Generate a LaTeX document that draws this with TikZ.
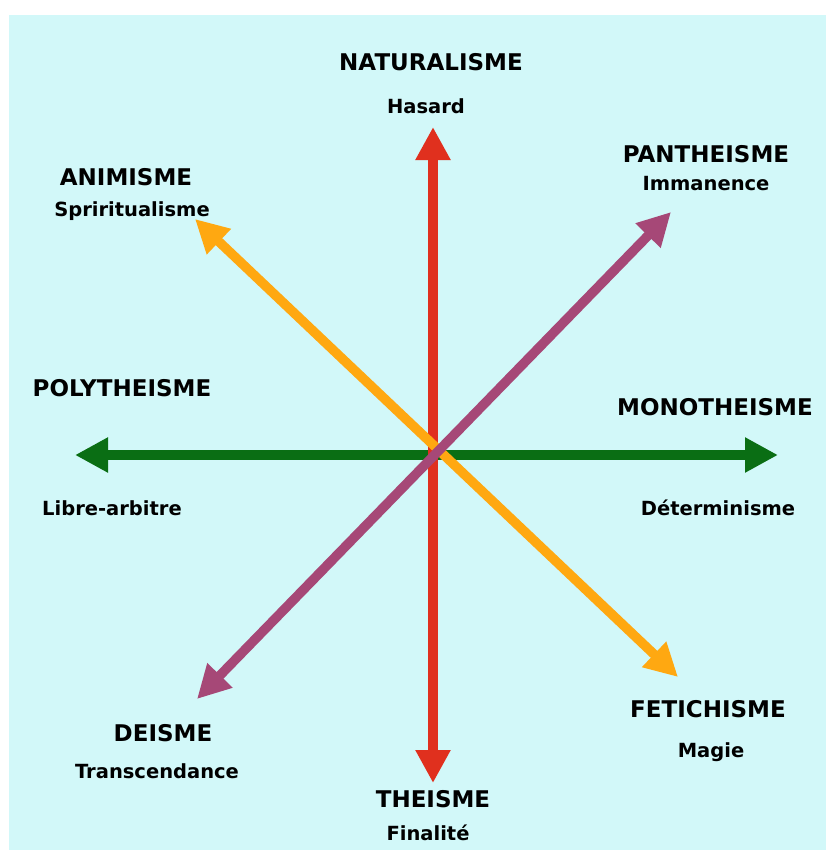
\documentclass[tikz,border=0pt]{standalone}
\usepackage{fontspec}
\setmainfont{DejaVu Sans}
\usepackage{tikz}
\usetikzlibrary{arrows.meta}
\definecolor{bgcyan}{HTML}{D2F8F9}
\definecolor{axred}{HTML}{E0301E}
\definecolor{axgreen}{HTML}{0A6E14}
\definecolor{axorange}{HTML}{FFA811}
\definecolor{axpurple}{HTML}{A64877}

\begin{document}
\begin{tikzpicture}[
  x = 1pt, y = -1pt,
  axis/.style = {line width = 9.5pt, {Triangle[length=33pt,width=33pt]}-{Triangle[length=33pt,width=33pt]}},
  doctrine/.style = {font = \bfseries\fontsize{23}{23}\selectfont, inner sep = 0pt},
  principle/.style = {font = \bfseries\fontsize{19.5}{19.5}\selectfont, inner sep = 0pt}
]
\useasboundingbox (0,0) rectangle (826,854);
\fill[white] (0,0) rectangle (826,854);
\fill[bgcyan] (9,15) rectangle (826,850);

% axis ends
\coordinate (north) at (433,127);
\coordinate (south) at (433,783);
\coordinate (west) at (75,455);
\coordinate (east) at (778,455);
\coordinate (northwest) at (195,219);
\coordinate (southeast) at (678,677);
\coordinate (northeast) at (671,212);
\coordinate (southwest) at (197,699);

\draw[axis, axgreen] (west) -- (east);
\draw[axis, axred] (south) -- (north);
\draw[axis, axorange] (northwest) -- (southeast);
\draw[axis, axpurple] (southwest) -- (northeast);

% labels
\node[doctrine] (naturalisme) at (431,62) {NATURALISME};
\node[principle] (hasard) at (426,106) {Hasard};
\node[doctrine] (pantheisme) at (706,154) {PANTHEISME};
\node[principle] (immanence) at (706,184) {Immanence};
\node[doctrine] (animisme) at (126,177) {ANIMISME};
\node[principle] (spiritualisme) at (132,211) {Spriritualisme};
\node[doctrine] (polytheisme) at (122,388) {POLYTHEISME};
\node[principle] (librearbitre) at (112,508) {Libre-arbitre};
\node[doctrine] (monotheisme) at (715,407) {MONOTHEISME};
\node[principle] (determinisme) at (718,508) {Déterminisme};
\node[doctrine] (deisme) at (163,733) {DEISME};
\node[principle] (transcendance) at (157,771) {Transcendance};
\node[doctrine] (theisme) at (433,799) {THEISME};
\node[principle] (finalite) at (428,833) {Finalité};
\node[doctrine] (fetichisme) at (708,709) {FETICHISME};
\node[principle] (magie) at (711,752) {Magie};
\end{tikzpicture}
\end{document}
